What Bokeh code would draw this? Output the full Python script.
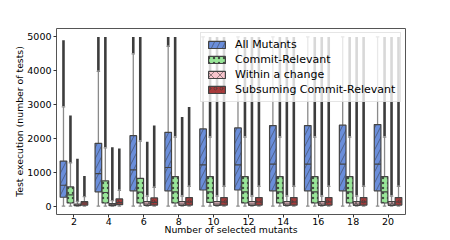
import math
from bokeh.plotting import figure
from bokeh.models import FixedTicker, Legend, LegendItem
from bokeh.embed import file_html
from bokeh.resources import INLINE

nan = float("nan")

groups = ["2", "4", "6", "8", "10", "12", "14", "16", "18", "20"]
series = ["All Mutants", "Commit-Relevant", "Within a change", "Subsuming Commit-Relevant"]

# All Mutants
all_q1 = [260, 420, 450, 450, 475, 475, 450, 450, 450, 450]
all_med = [615, 960, 1070, 1140, 1220, 1220, 1240, 1240, 1240, 1240]
all_q3 = [1330, 1855, 2080, 2180, 2280, 2310, 2380, 2380, 2390, 2410]
all_wlo = [0, 0, 0, 0, 0, 0, 0, 0, 0, 0]
all_whi = [2930, 3980, 4500, 4720, 5000, 5000, 5000, 5000, 5000, 5000]
all_out_lo = [2950, 4000, 4520, 4740, nan, nan, nan, nan, nan, nan]
all_out_hi = [4900, 5000, 5000, 5000, nan, nan, nan, nan, nan, nan]

# Commit-Relevant
cr_q1 = [90, 90, 90, 90, 110, 90, 90, 90, 90, 90]
cr_med = [330, 400, 410, 420, 420, 420, 420, 420, 420, 420]
cr_q3 = [565, 745, 820, 870, 870, 870, 870, 870, 870, 870]
cr_wlo = [0, 0, 0, 0, 0, 0, 0, 0, 0, 0]
cr_whi = [1280, 1720, 1920, 2040, 2040, 2040, 2040, 2040, 2040, 2040]
cr_out_lo = [1300, 1740, 1940, 2060, 2060, 2060, 2060, 2060, 2060, 2060]
cr_out_hi = [2680, 5000, 5000, 5000, 5000, 5000, 5000, 5000, 5000, 5000]

# Within a change
wc_q1 = [10, 10, 20, 20, 20, 20, 20, 20, 20, 20]
wc_med = [30, 35, 60, 60, 60, 60, 60, 60, 60, 60]
wc_q3 = [60, 70, 130, 130, 130, 130, 130, 130, 130, 130]
wc_wlo = [0, 0, 0, 0, 0, 0, 0, 0, 0, 0]
wc_whi = [135, 160, 295, 295, 295, 295, 295, 295, 295, 295]
wc_out_lo = [150, 180, 310, 310, 310, 310, 310, 310, 310, 310]
wc_out_hi = [1400, 1740, 1900, 2630, 5000, 5000, 5000, 5000, 5000, 5000]

# Subsuming Commit-Relevant
sc_q1 = [30, 40, 30, 30, 30, 30, 30, 30, 30, 30]
sc_med = [90, 100, 110, 120, 120, 120, 120, 120, 120, 120]
sc_q3 = [130, 210, 240, 250, 250, 250, 250, 250, 250, 250]
sc_wlo = [0, 0, 0, 0, 0, 0, 0, 0, 0, 0]
sc_whi = [280, 465, 555, 580, 580, 580, 580, 580, 580, 580]
sc_out_lo = [300, 480, 570, 600, 600, 600, 600, 600, 600, 600]
sc_out_hi = [890, 1700, 2380, 2930, 5000, 5000, 5000, 5000, 5000, 5000]

y_ticks = [0, 1000, 2000, 3000, 4000, 5000]

stats = [
    (all_q1, all_med, all_q3, all_wlo, all_whi, all_out_lo, all_out_hi),
    (cr_q1, cr_med, cr_q3, cr_wlo, cr_whi, cr_out_lo, cr_out_hi),
    (wc_q1, wc_med, wc_q3, wc_wlo, wc_whi, wc_out_lo, wc_out_hi),
    (sc_q1, sc_med, sc_q3, sc_wlo, sc_whi, sc_out_lo, sc_out_hi),
]
fills = ["#6a8edb", "#98e698", "#f7c4cc", "#a83a3a"]
hatches = ["/", ".", "x", "o"]
hatch_scales = [11, 5, 9, 6]
offsets = [-0.3, -0.1, 0.1, 0.3]
edge = "#444444"
whisk = "#8a8a8a"
font = "DejaVu Sans"

p = figure(frame_width=349, frame_height=186, output_backend="svg", toolbar_location=None,
           x_range=(-0.5, 9.5), y_range=(-250, 5250),
           min_border_left=56, min_border_right=45, min_border_top=28, min_border_bottom=0)
p.xgrid.visible = False
p.ygrid.visible = False
p.outline_line_color = "#555555"
p.outline_line_width = 1
p.background_fill_color = "white"

legend_items = []
bw = 0.19
for k, (q1, med, q3, wlo, whi, olo, ohi) in enumerate(stats):
    xs = [i + offsets[k] for i in range(len(groups))]
    ox = [x for x, a in zip(xs, olo) if not math.isnan(a)]
    oa = [a for a in olo if not math.isnan(a)]
    ob = [b for b in ohi if not math.isnan(b)]
    p.segment(x0=ox, y0=oa, x1=ox, y1=ob, line_color="#3d3d3d", line_width=2.6)
    p.segment(x0=xs, y0=q3, x1=xs, y1=whi, line_color=whisk, line_width=1.3)
    p.segment(x0=xs, y0=q1, x1=xs, y1=wlo, line_color=whisk, line_width=1.3)
    cap = 0.05
    p.segment(x0=[x - cap for x in xs], y0=whi, x1=[x + cap for x in xs], y1=whi, line_color=whisk, line_width=1.3)
    p.segment(x0=[x - cap for x in xs], y0=wlo, x1=[x + cap for x in xs], y1=wlo, line_color=whisk, line_width=1.3)
    r = p.vbar(x=xs, bottom=q1, top=q3, width=bw, fill_color=fills[k], line_color=edge, line_width=1.2,
               hatch_pattern=hatches[k], hatch_color="#333333", hatch_alpha=0.85, hatch_scale=hatch_scales[k],
               hatch_weight=0.6)
    p.segment(x0=[x - bw / 2 for x in xs], y0=med, x1=[x + bw / 2 for x in xs], y1=med, line_color=edge, line_width=1.2)
    legend_items.append(LegendItem(label=series[k], renderers=[r]))

legend = Legend(items=legend_items, location=(144, 112), orientation="vertical",
                label_text_font=font, label_text_font_size="11px", label_text_color="black",
                glyph_width=21, glyph_height=9, label_height=10, label_standoff=8,
                spacing=2, padding=5, margin=0,
                background_fill_color="white", background_fill_alpha=0.8,
                border_line_color="#cccccc", border_line_width=1)
p.add_layout(legend, "center")

p.xaxis.ticker = FixedTicker(ticks=list(range(len(groups))))
p.xaxis.major_label_overrides = {i: g for i, g in enumerate(groups)}
p.yaxis.ticker = FixedTicker(ticks=y_ticks)
p.xaxis.axis_label = "Number of selected mutants"
p.yaxis.axis_label = "Test execution (number of tests)"
for ax in (p.xaxis[0], p.yaxis[0]):
    ax.axis_line_color = None
    ax.major_tick_out = 3
    ax.major_tick_in = 0
    ax.minor_tick_out = 0
    ax.minor_tick_in = 0
    ax.major_tick_line_color = "#333333"
    ax.major_label_text_font = font
    ax.major_label_text_font_size = "9.5px"
    ax.major_label_text_color = "black"
    ax.axis_label_text_font = font
    ax.axis_label_text_font_size = "9.3px"
    ax.axis_label_text_font_style = "normal"
    ax.axis_label_text_color = "black"
p.xaxis.major_label_standoff = 0
p.xaxis.axis_label_standoff = -4
p.yaxis.major_label_standoff = 2
p.yaxis.axis_label_standoff = -1

open("out.html", "w").write(file_html(p, INLINE))
